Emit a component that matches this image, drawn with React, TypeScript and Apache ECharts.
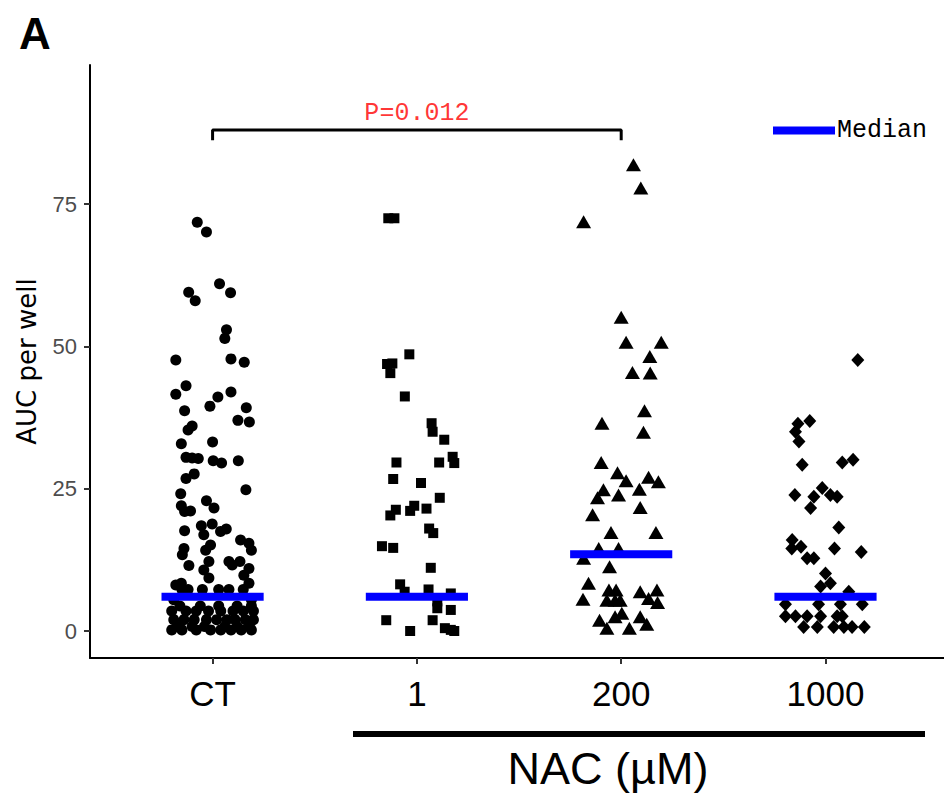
import React, { useEffect, useRef } from "react";
import * as echarts from "echarts";

const categories = ["CT", "1", "200", "1000"];
const yTicks = [0, 25, 50, 75];
const medians = [6.0, 6.0, 13.5, 6.0];
const pValueText = "P=0.012";
const xAxisTitle = "NAC (µM)";
const yAxisTitle = "AUC per well";

// [value, horizontal jitter]
const ctPoints: [number, number][] = [
  [71.8, -0.075], [70.1, -0.03], [61.0, 0.034], [59.5, -0.117], [59.4, 0.088], [58.0, -0.085],
  [52.9, 0.068], [51.4, 0.06], [47.8, 0.09], [47.6, -0.18], [47.2, 0.155], [43.1, -0.13],
  [42.0, 0.09], [41.6, -0.18], [41.1, 0.026], [39.5, -0.013], [39.2, 0.165], [38.7, -0.137],
  [37.0, 0.124], [36.7, 0.18], [36.0, -0.1], [35.3, -0.12], [33.2, 0.0], [32.9, -0.153],
  [30.5, -0.13], [30.4, -0.1], [30.3, -0.07], [29.9, 0.003], [29.5, 0.044], [29.9, 0.126],
  [27.6, -0.09], [26.8, -0.13], [24.8, 0.163], [24.1, -0.156], [22.9, -0.03], [22.0, -0.153],
  [21.6, 0.007], [21.1, -0.108], [21.0, -0.137], [18.8, -0.002], [18.5, -0.055], [17.9, 0.067],
  [17.6, -0.137], [17.5, 0.039], [16.9, -0.043], [16.0, 0.137], [15.4, 0.178], [15.1, -0.01],
  [14.5, -0.14], [14.2, 0.19], [14.2, -0.034], [13.4, -0.148], [12.2, -0.018], [12.2, 0.08],
  [12.2, 0.134], [11.6, 0.096], [11.5, -0.116], [11.0, 0.178], [10.7, -0.043], [9.8, 0.153],
  [9.3, -0.018], [8.4, -0.153], [8.4, 0.178], [8.1, -0.18], [7.3, -0.15], [7.3, -0.12],
  [7.3, -0.05], [7.3, 0.03], [7.3, 0.08], [7.3, 0.15], [5.5, -0.19], [5.5, 0.19],
  [4.4, -0.16], [4.4, -0.06], [4.4, 0.03], [4.4, 0.12], [4.4, 0.19],
  [3.5, -0.2], [3.5, -0.13], [3.5, -0.08], [3.5, -0.02], [3.5, 0.04], [3.5, 0.1], [3.5, 0.15], [3.5, 0.2],
  [2.0, -0.19], [2.0, -0.14], [2.0, -0.09], [2.0, -0.03], [2.0, 0.02], [2.0, 0.07], [2.0, 0.11], [2.0, 0.16], [2.0, 0.2],
  [0.8, -0.17], [0.8, -0.1], [0.8, -0.04], [0.8, 0.06], [0.8, 0.12], [0.8, 0.18],
  [0.2, -0.2], [0.2, -0.15], [0.2, -0.08], [0.2, -0.01], [0.2, 0.04], [0.2, 0.09], [0.2, 0.14], [0.2, 0.19],
];

const nac1Points: [number, number][] = [
  [72.5, -0.14], [72.5, -0.11], [48.6, -0.037], [47.0, -0.12], [46.9, -0.146], [45.3, -0.13],
  [41.2, -0.059], [36.5, 0.072], [35.0, 0.077], [33.6, 0.134], [30.6, 0.175], [29.6, -0.1],
  [29.6, 0.109], [29.5, 0.183], [26.7, -0.116], [26.0, 0.02], [23.4, 0.112], [22.0, -0.013],
  [21.5, 0.047], [21.3, -0.103], [21.1, -0.033], [20.3, -0.13], [18.0, 0.06], [17.2, 0.08],
  [14.9, -0.171], [14.6, -0.116], [11.1, 0.068], [8.2, -0.082], [7.3, 0.057], [6.9, -0.06],
  [6.6, 0.166], [5.2, 0.1], [4.0, 0.1], [3.7, 0.166], [1.9, 0.077], [1.9, -0.15],
  [0.5, 0.137], [0.2, 0.166], [0.0, 0.183], [0.0, -0.033],
];

const nac200Points: [number, number][] = [
  [81.9, 0.06], [77.8, 0.096], [71.9, -0.184], [55.1, 0.0], [50.7, 0.024], [50.7, 0.196],
  [48.2, 0.14], [45.4, 0.055], [45.3, 0.142], [38.7, 0.114], [36.5, -0.094], [34.9, 0.109],
  [29.6, -0.098], [27.8, -0.018], [27.0, 0.134], [26.4, 0.024], [26.2, 0.182], [24.9, 0.089],
  [24.8, -0.087], [23.9, -0.013], [23.4, -0.116], [21.7, 0.093], [20.4, -0.14], [17.3, -0.05],
  [17.3, 0.17], [14.5, -0.11], [14.5, -0.013], [12.8, -0.184], [11.3, -0.057], [8.4, -0.16],
  [7.2, -0.06], [7.2, -0.025], [6.9, 0.093], [7.2, 0.175], [5.7, 0.134], [5.6, -0.187],
  [5.4, -0.07], [5.4, -0.03], [5.4, -0.005], [5.0, 0.178], [3.1, 0.003], [2.5, -0.03],
  [2.5, 0.093], [1.9, -0.106], [1.2, 0.125], [0.5, -0.07], [0.5, 0.04],
];

const nac1000Points: [number, number][] = [
  [47.6, 0.158], [36.9, -0.077], [36.4, -0.135], [35.0, -0.147], [33.3, -0.13], [30.1, 0.135],
  [29.6, 0.082], [29.2, -0.114], [25.1, -0.016], [23.9, -0.15], [23.9, 0.024], [23.6, -0.057],
  [23.6, 0.057], [21.6, -0.073], [18.2, 0.065], [16.0, -0.163], [14.8, -0.12], [14.5, -0.165],
  [14.5, 0.044], [13.9, 0.175], [12.8, -0.09], [12.8, -0.057], [10.1, 0.0], [8.4, 0.024],
  [7.8, -0.024], [6.9, 0.114], [4.7, -0.196], [4.7, -0.034], [4.7, 0.073], [4.7, 0.18],
  [2.6, -0.196], [2.6, -0.147], [2.6, -0.09], [2.6, -0.024], [2.6, 0.057], [2.6, 0.082],
  [0.7, -0.107], [0.7, -0.04], [0.7, 0.04], [0.7, 0.09], [0.7, 0.13], [0.7, 0.19],
];

const groups = [ctPoints, nac1Points, nac200Points, nac1000Points];
const symbols = ["circle", "rect", "triangle", "diamond"];
const symbolSizes: (number | number[])[] = [11, 10, [15, 13], [13, 14]];

// bracket comparing CT vs 200
const bracketFrom = 1;
const bracketTo = 3;
const bracketTop = 88.0;
const bracketFoot = 86.2;

export default function App() {
  const ref = useRef<HTMLDivElement>(null);

  useEffect(() => {
    if (!ref.current) return;
    const chart = echarts.init(ref.current, undefined, { renderer: "svg" });

    const scatterSeries = groups.map((pts, i) => ({
      type: "scatter",
      name: categories[i],
      data: pts.map(([v, j]) => [i + 1 + j, v]),
      symbol: symbols[i],
      symbolSize: symbolSizes[i],
      itemStyle: { color: "#000000", opacity: 1 },
      z: 2,
      silent: true,
    }));

    const medianSeries = medians.map((m, i) => ({
      type: "line",
      name: "Median",
      data: [
        [i + 1 - 0.25, m],
        [i + 1 + 0.25, m],
      ],
      symbol: "none",
      lineStyle: { color: "#0000ff", width: 8, cap: "butt" },
      itemStyle: { color: "#0000ff" },
      z: 5,
      silent: true,
    }));

    const option: any = {
      animation: false,
      backgroundColor: "#ffffff",
      title: {
        text: "A",
        left: 14,
        top: 6,
        textStyle: {
          fontFamily: "Liberation Sans, Arial, sans-serif",
          fontWeight: "bold",
          fontSize: 44,
          color: "#000000",
        },
      },
      legend: {
        data: [{ name: "Median", icon: "rect" }],
        left: 768,
        top: 113,
        itemWidth: 62,
        itemHeight: 8,
        selectedMode: false,
        textStyle: {
          fontFamily: "Liberation Mono, Courier New, monospace",
          fontSize: 25,
          color: "#000000",
          padding: [0, 0, 0, -3],
        },
      },
      grid: { left: 90, right: 0, top: 65, bottom: 140 },
      xAxis: {
        type: "value",
        min: 0.4,
        max: 4.58,
        splitLine: { show: false },
        axisLine: { show: true, onZero: false, lineStyle: { color: "#000000", width: 2 } },
        axisTick: {
          show: true,
          customValues: [1, 2, 3, 4],
          length: 6,
          lineStyle: { color: "#333333", width: 2 },
        },
        axisLabel: {
          customValues: [1, 2, 3, 4],
          formatter: (v: number) => categories[Math.round(v) - 1] ?? "",
          fontFamily: "Liberation Sans Narrow, Arial Narrow, Liberation Sans, sans-serif",
          fontSize: 35,
          color: "#000000",
          margin: 18,
        },
      },
      yAxis: {
        type: "value",
        min: -4.74,
        max: 99.42,
        name: yAxisTitle,
        nameLocation: "middle",
        nameGap: 50,
        nameTextStyle: {
          fontFamily: "DejaVu Sans, sans-serif",
          fontSize: 26,
          color: "#000000",
        },
        splitLine: { show: false },
        axisLine: { show: true, onZero: false, lineStyle: { color: "#000000", width: 2 } },
        axisTick: {
          show: true,
          customValues: yTicks,
          length: 6,
          lineStyle: { color: "#333333", width: 2 },
        },
        axisLabel: {
          customValues: yTicks,
          fontFamily: "Liberation Sans, Arial, sans-serif",
          fontSize: 22,
          color: "#4d4d4d",
          margin: 13,
        },
      },
      graphic: [
        {
          type: "rect",
          shape: { x: 353, y: 731, width: 572, height: 6 },
          style: { fill: "#000000" },
          silent: true,
        },
        {
          type: "text",
          x: 608,
          y: 768,
          style: {
            text: xAxisTitle,
            fontFamily: "Liberation Sans Narrow, Arial Narrow, Liberation Sans, sans-serif",
            fontSize: 45,
            fill: "#000000",
            textAlign: "center",
            textVerticalAlign: "middle",
          },
          silent: true,
        },
      ],
      series: [
        ...scatterSeries,
        ...medianSeries,
        {
          type: "line",
          name: "bracket",
          data: [
            [bracketFrom, bracketFoot],
            [bracketFrom, bracketTop],
            [bracketTo, bracketTop],
            [bracketTo, bracketFoot],
          ],
          symbol: "none",
          lineStyle: { color: "#000000", width: 3 },
          silent: true,
          z: 3,
        },
        {
          type: "scatter",
          name: "pvalue",
          data: [[(bracketFrom + bracketTo) / 2, bracketTop]],
          symbolSize: 0,
          silent: true,
          label: {
            show: true,
            position: "top",
            distance: 4,
            formatter: pValueText,
            fontFamily: "Liberation Mono, Courier New, monospace",
            fontSize: 25,
            color: "#ff0000",
          },
        },
      ],
    };

    chart.setOption(option);
    return () => chart.dispose();
  }, []);

  return (
    <div
      ref={ref}
      style={{ position: "absolute", left: 0, top: 0, width: 944, height: 798 }}
    />
  );
}
